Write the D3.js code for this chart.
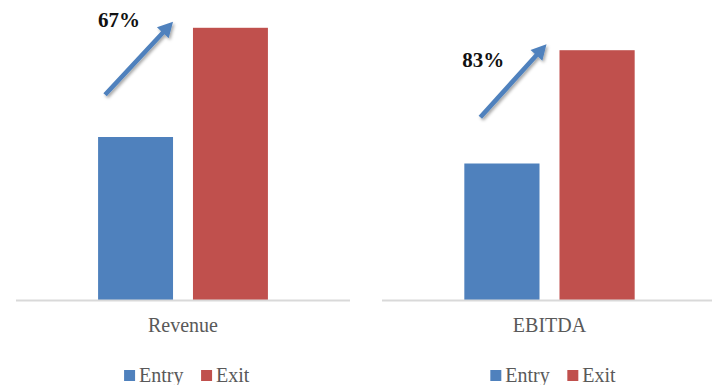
<!DOCTYPE html>
<html lang="en">
<head>
<meta charset="UTF-8">
<title>Entry vs Exit</title>
<script src="https://d3js.org/d3.v7.min.js"></script>
<style>
    body { margin: 0; background: #fff; font-family: "Liberation Serif", "Times New Roman", serif; }
    svg { display: block; }
</style>
</head>
<body>
<div id="container"></div>
<script>
// data
const categories = ["Revenue", "EBITDA"];
const series = ["Entry", "Exit"];
const entryValues = [100, 100];
const exitValues = [167, 183];
const growthLabels = ["67%", "83%"];
const axisMax = [180, 200];

const colors = { Entry: "#4f81bd", Exit: "#c0504d" };

const width = 712, height = 385;
const svg = d3.select("#container").append("svg")
    .attr("width", width).attr("height", height);

// shadow for the arrows
const defs = svg.append("defs");
const f = defs.append("filter").attr("id", "shadow")
    .attr("x", "-30%").attr("y", "-30%").attr("width", "160%").attr("height", "160%");
f.append("feDropShadow").attr("dx", 1.5).attr("dy", 2).attr("stdDeviation", 1.5)
    .attr("flood-color", "#000").attr("flood-opacity", 0.35);

// layout of the two small charts
const panels = [
    { left: 16, right: 350, pxPerUnit: 1.63, tipDx: 0, tailDx: 7, labelDx: 0, labelDy: -1 },
    { left: 382, right: 717, pxPerUnit: 1.365, tipDx: 7, tailDx: 16, labelDx: -2, labelDy: 17 }
];
const baseY = 300;

categories.forEach(function(cat, i) {
    const p = panels[i];
    const g = svg.append("g");

    const x = d3.scaleBand()
        .domain(series)
        .range([p.left, p.right])
        .paddingInner(0.21)
        .paddingOuter(0.865);

    const y = d3.scaleLinear()
        .domain([0, axisMax[i]])
        .range([baseY, baseY - axisMax[i] * p.pxPerUnit]);

    const vals = [
        { s: "Entry", v: entryValues[i] },
        { s: "Exit", v: exitValues[i] }
    ];

    g.selectAll("rect")
        .data(vals)
        .enter()
        .append("rect")
        .attr("x", d => x(d.s))
        .attr("y", d => y(d.v))
        .attr("width", x.bandwidth())
        .attr("height", d => y(0) - y(d.v))
        .attr("fill", d => colors[d.s]);

    // baseline
    g.append("line")
        .attr("x1", p.left).attr("x2", Math.min(p.right, width))
        .attr("y1", y(0) + 0.5).attr("y2", y(0) + 0.5)
        .attr("stroke", "#d9d9d9").attr("stroke-width", 2);

    // category label
    g.append("text")
        .attr("x", x("Entry") + (x("Exit") + x.bandwidth() - x("Entry")) / 2)
        .attr("y", 332)
        .attr("text-anchor", "middle")
        .attr("fill", "#595959")
        .style("font-size", "20px")
        .text(cat);

    // growth arrow
    const exitTop = y(exitValues[i]);
    const tipX = x("Entry") + x.bandwidth() + p.tipDx;
    const tipY = exitTop - 6;
    const tailX = x("Entry") + p.tailDx;
    const tailY = tipY + 73;
    const ang = Math.atan2(tipY - tailY, tipX - tailX);
    const headLen = 15, headW = 8;
    const bx = tipX - headLen * Math.cos(ang), by = tipY - headLen * Math.sin(ang);
    const nx = -Math.sin(ang), ny = Math.cos(ang);
    const sw = 2.3;
    const arrow = d3.path();
    arrow.moveTo(tailX + nx * sw, tailY + ny * sw);
    arrow.lineTo(bx + nx * sw, by + ny * sw);
    arrow.lineTo(bx + nx * headW, by + ny * headW);
    arrow.lineTo(tipX, tipY);
    arrow.lineTo(bx - nx * headW, by - ny * headW);
    arrow.lineTo(bx - nx * sw, by - ny * sw);
    arrow.lineTo(tailX - nx * sw, tailY - ny * sw);
    arrow.closePath();
    g.append("path")
        .attr("d", arrow.toString())
        .attr("fill", "#4f81bd")
        .attr("filter", "url(#shadow)");

    g.append("text")
        .attr("x", x("Entry") + p.labelDx)
        .attr("y", exitTop + p.labelDy)
        .attr("fill", "#111")
        .style("font-size", "21px")
        .style("font-weight", "bold")
        .text(growthLabels[i]);

    // legend
    const legendX = [x("Entry") + 26, x("Entry") + 103];
    const lg = g.selectAll(".legend")
        .data(series)
        .enter()
        .append("g")
        .attr("class", "legend")
        .attr("transform", (d, k) => "translate(" + legendX[k] + ",370)");
    lg.append("rect")
        .attr("width", 11).attr("height", 11)
        .attr("fill", d => colors[d]);
    lg.append("text")
        .attr("x", 15).attr("y", 12)
        .attr("fill", "#595959")
        .style("font-size", "20px")
        .text(d => d);
});
</script>
</body>
</html>
